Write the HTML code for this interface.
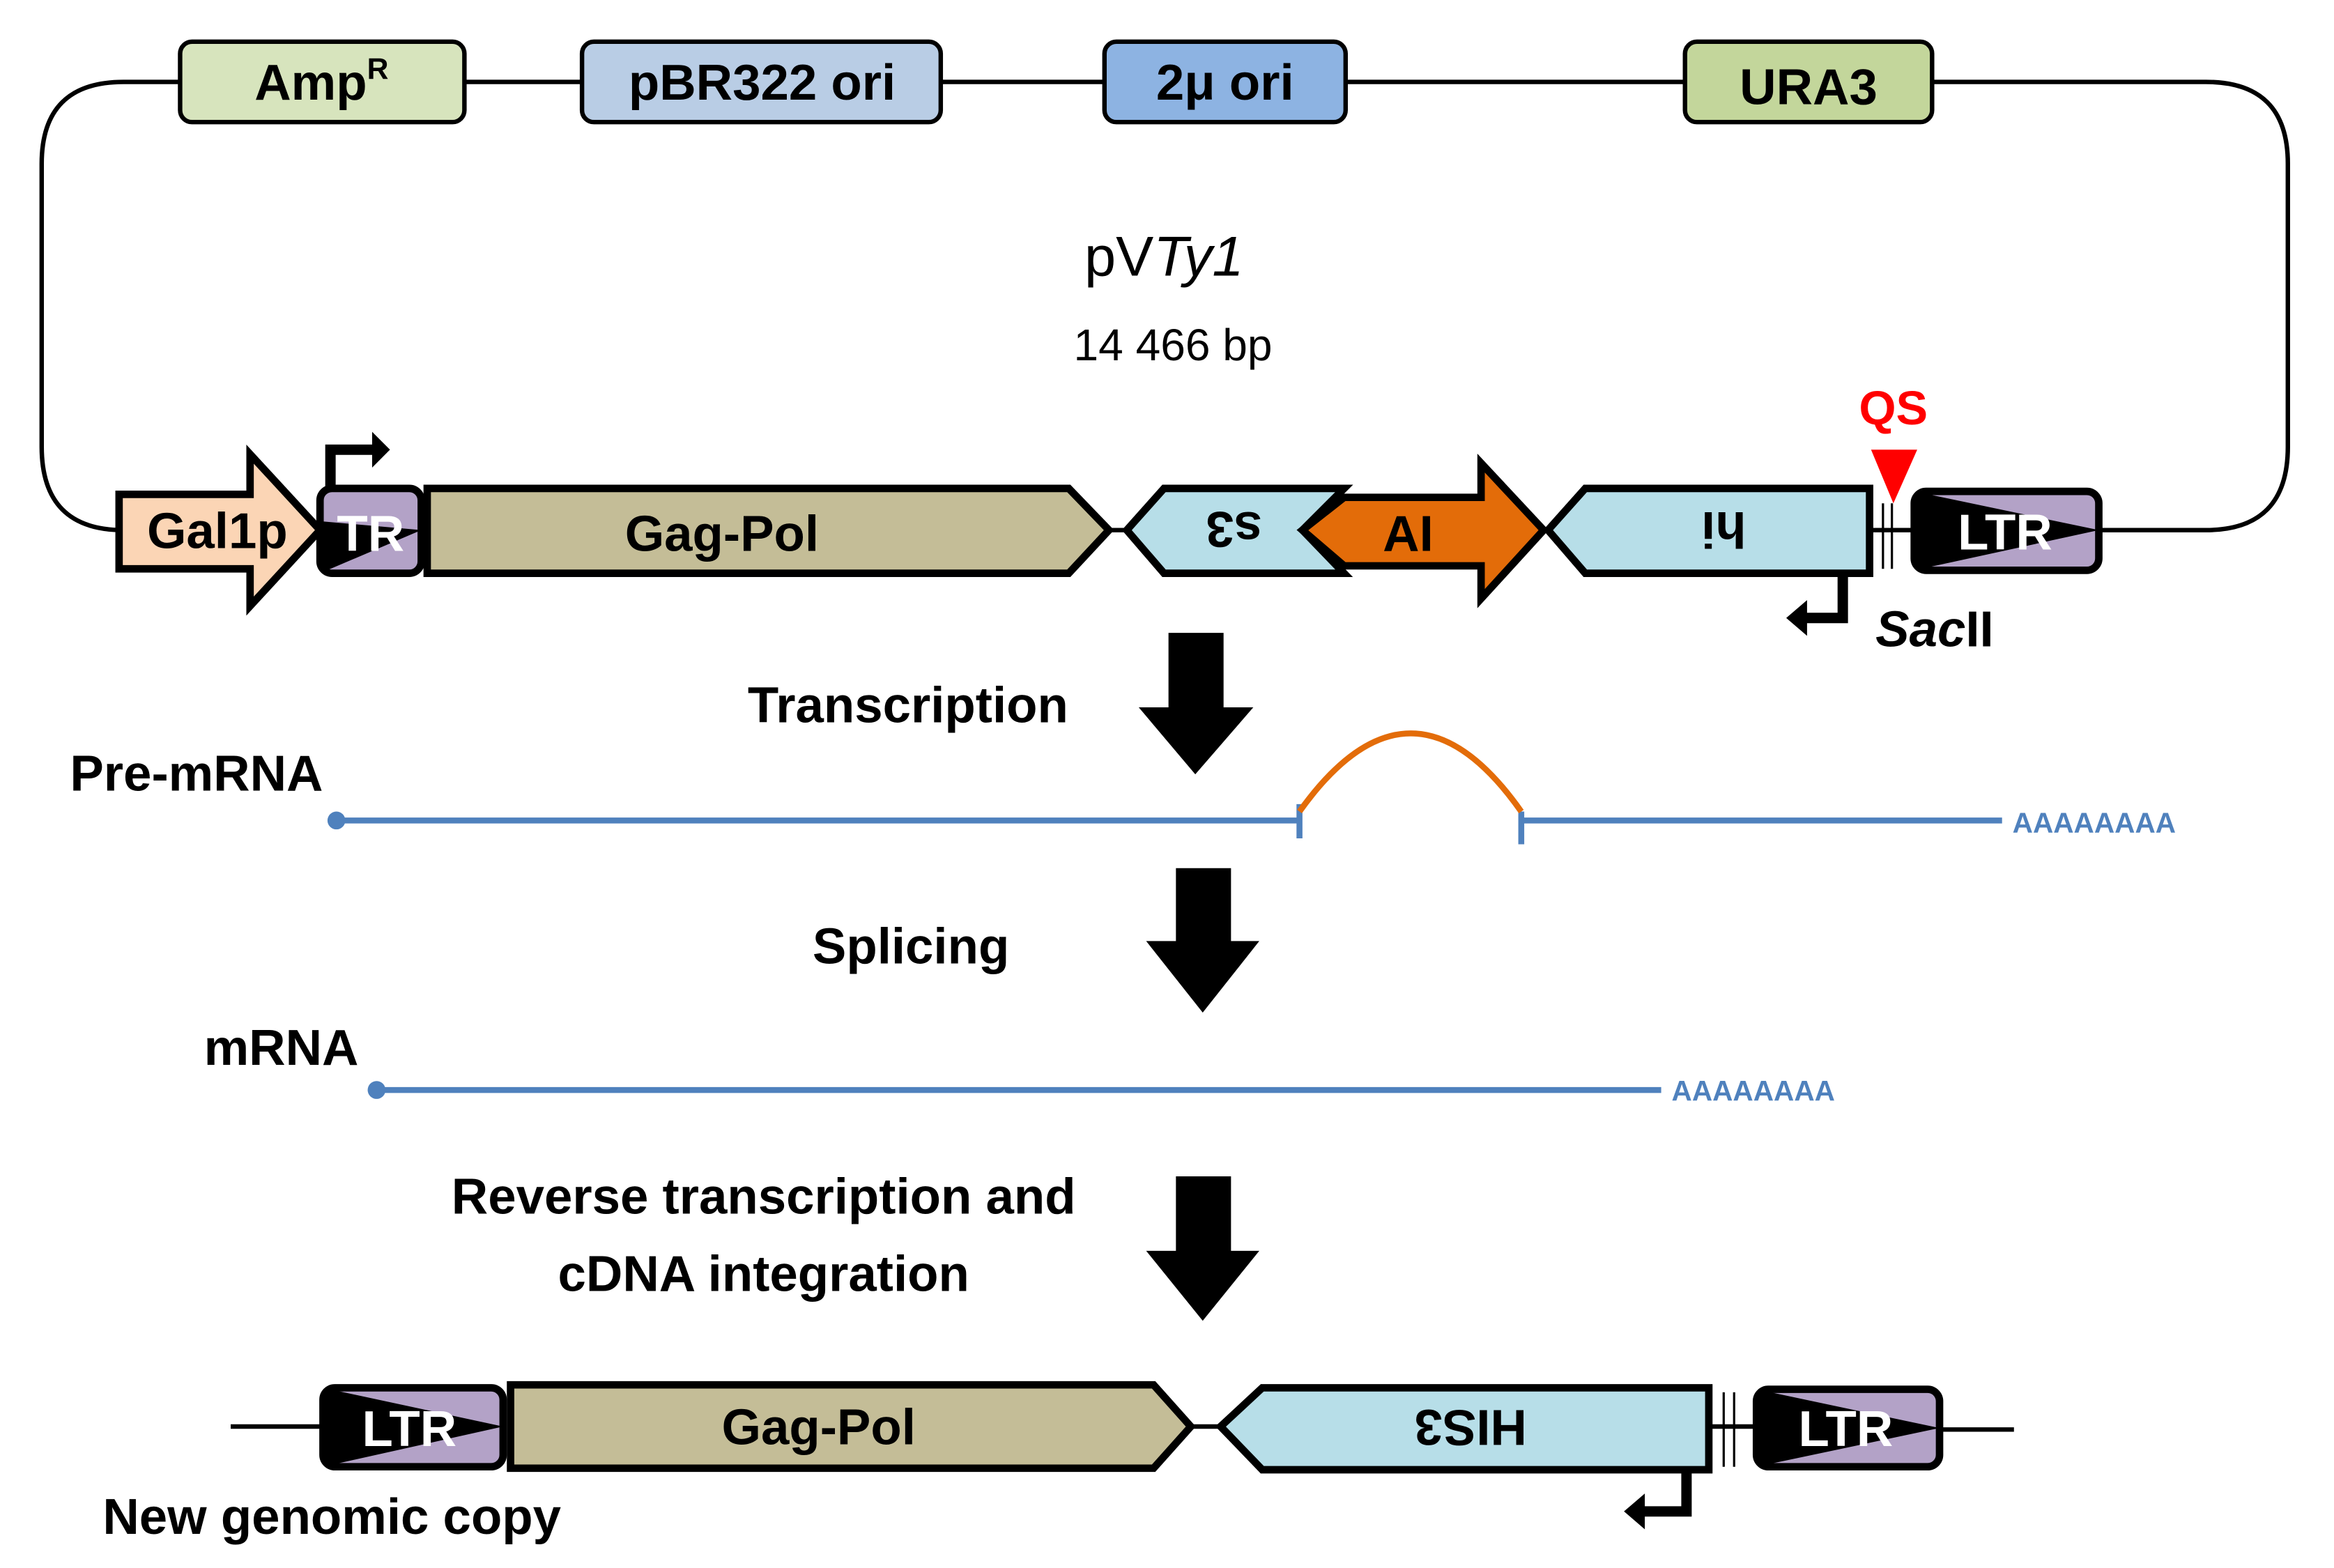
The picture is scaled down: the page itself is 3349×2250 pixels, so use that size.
<!DOCTYPE html>
<html><head><meta charset="utf-8"><style>html,body{margin:0;padding:0;background:#fff}svg{display:block}text{font-family:"Liberation Sans",sans-serif}</style></head><body>
<svg width="3349" height="2250" viewBox="0 0 1568 1053" preserveAspectRatio="none" xmlns="http://www.w3.org/2000/svg">
<defs><clipPath id="c1"><rect x="215" y="328" width="68" height="57" rx="8"/></clipPath>
<clipPath id="c2"><rect x="1286" y="330" width="124" height="53" rx="8"/></clipPath>
<clipPath id="c3"><rect x="217" y="932" width="121" height="53" rx="8"/></clipPath>
<clipPath id="c4"><rect x="1180" y="933" width="123" height="52" rx="8"/></clipPath></defs>
<g fill="none" stroke="#000" stroke-width="3">
<path d="M80 356 H83 Q28 356 28 300 V110 Q28 55 83 55 H1482 Q1537 55 1537 110 V300 Q1537 356 1482 356 H1410"/>
<line x1="745" y1="356" x2="757" y2="356"/>
<line x1="1256" y1="356" x2="1286" y2="356"/>
<line x1="155" y1="958" x2="217" y2="958"/>
<line x1="800" y1="958" x2="820" y2="958"/>
<line x1="1148" y1="958" x2="1180" y2="958"/>
<line x1="1303" y1="960" x2="1353" y2="960"/>
</g>
<g stroke="#000" stroke-width="3">
<rect x="121" y="28" width="191" height="54" rx="8" fill="#d7e4bd"/>
<rect x="391" y="28" width="241" height="54" rx="8" fill="#b9cde5"/>
<rect x="742" y="28" width="162" height="54" rx="8" fill="#8db3e2"/>
<rect x="1132" y="28" width="166" height="54" rx="8" fill="#c3d69b"/>
</g>
<g font-weight="bold" font-size="34" text-anchor="middle">
<text x="216" y="67">Amp<tspan font-size="20" dy="-14">R</tspan></text>
<text x="512" y="67">pBR322 ori</text>
<text x="823" y="67">2μ ori</text>
<text x="1215" y="70">URA3</text>
</g>
<text x="782" y="185" font-size="38" text-anchor="middle">pV<tspan font-style="italic">Ty1</tspan></text>
<text x="788" y="242" font-size="30" text-anchor="middle">14 466 bp</text>
<g stroke="#000" stroke-width="5" stroke-linejoin="miter">
<path d="M80 332 H168 V305 L215 356 L168 407 V382 H80 Z" fill="#fbd5b5"/>
<path d="M287 328 H718 L745 356 L718 385 H287 Z" fill="#c4bd97"/>
<path d="M782 328 H903 L875 356 L903 385 H782 L757 356 Z" fill="#b7dee8"/>
<path d="M875 356 L903 334 H995 V311 L1037 356 L995 402 V380 H903 Z" fill="#e36c09"/>
<path d="M1065 328 H1256 V385 H1065 L1040 356 Z" fill="#b7dee8"/>
</g>
<g clip-path="url(#c1)"><rect x="215" y="328" width="68" height="57" fill="#b3a2c7"/><path d="M215 350 L283 356 L215 385 Z" fill="#000"/></g>
<rect x="215" y="328" width="68" height="57" rx="8" fill="none" stroke="#000" stroke-width="5"/>
<g clip-path="url(#c2)"><rect x="1286" y="330" width="124" height="53" fill="#b3a2c7"/><path d="M1286 330 L1410 356 L1286 383 Z" fill="#000"/></g>
<rect x="1286" y="330" width="124" height="53" rx="8" fill="none" stroke="#000" stroke-width="5"/>
<g font-weight="bold" font-size="34" text-anchor="middle">
<text x="146" y="368">Gal1p</text>
<text x="249" y="370" fill="#fff">TR</text>
<text x="485" y="370">Gag-Pol</text>
<text x="946" y="370">AI</text>
<text x="1347" y="369" fill="#fff">LTR</text>
<text transform="rotate(180 829 356)" x="829" y="368">s3</text>
<text transform="rotate(180 1158 356)" x="1158" y="368">hi</text>
</g>
<path d="M222 330 V302 H252" fill="none" stroke="#000" stroke-width="7"/><path d="M250 290 L262 302 L250 314 Z" fill="#000"/>
<path d="M1238 385 V415 H1212" fill="none" stroke="#000" stroke-width="7"/><path d="M1214 403 L1200 415 L1214 427 Z" fill="#000"/>
<path d="M1133 987 V1015 H1103" fill="none" stroke="#000" stroke-width="7"/><path d="M1105 1003 L1091 1015 L1105 1027 Z" fill="#000"/>
<line x1="1265" y1="338" x2="1265" y2="382" stroke="#000" stroke-width="1.5"/>
<line x1="1271" y1="338" x2="1271" y2="382" stroke="#000" stroke-width="1.5"/>
<path d="M1257 302 H1288 L1272 338 Z" fill="#f00"/>
<text x="1272" y="285" font-size="32" font-weight="bold" fill="#f00" text-anchor="middle">QS</text>
<text x="1260" y="434" font-size="34" font-weight="bold"><tspan font-style="italic">Sac</tspan>II</text>
<path d="M785 425 H822 V475 H842 L803 520 L765 475 H785 Z" fill="#000"/>
<path d="M790 583 H827 V632 H846 L808 680 L770 632 H790 Z" fill="#000"/>
<path d="M790 790 H827 V840 H846 L808 887 L770 840 H790 Z" fill="#000"/>
<g font-weight="bold" font-size="34">
<text x="610" y="485" text-anchor="middle">Transcription</text>
<text x="47" y="531">Pre-mRNA</text>
<text x="612" y="647" text-anchor="middle">Splicing</text>
<text x="137" y="715">mRNA</text>
<text x="513" y="815" text-anchor="middle">Reverse transcription and</text>
<text x="513" y="867" text-anchor="middle">cDNA integration</text>
<text x="69" y="1030">New genomic copy</text>
</g>
<g stroke="#4f81bd" stroke-width="4" fill="none">
<line x1="226" y1="551" x2="873" y2="551"/><line x1="873" y1="540" x2="873" y2="563"/>
<line x1="1022" y1="545" x2="1022" y2="567"/><line x1="1022" y1="551" x2="1345" y2="551"/>
<line x1="253" y1="732" x2="1116" y2="732"/>
</g>
<circle cx="226" cy="551" r="6" fill="#4f81bd"/><circle cx="253" cy="732" r="6" fill="#4f81bd"/>
<path d="M873 545 Q948 440 1022 545" fill="none" stroke="#e36c09" stroke-width="4"/>
<text x="1352" y="559" font-size="19" font-weight="bold" fill="#4f81bd">AAAAAAAA</text>
<text x="1123" y="739" font-size="19" font-weight="bold" fill="#4f81bd">AAAAAAAA</text>
<g stroke="#000" stroke-width="5">
<path d="M343 930 H775 L800 958 L775 986 H343 Z" fill="#c4bd97"/>
<path d="M848 932 H1148 V987 H848 L820 958 Z" fill="#b7dee8"/>
</g>
<g clip-path="url(#c3)"><rect x="217" y="932" width="121" height="53" fill="#b3a2c7"/><path d="M217 932 L338 958 L217 985 Z" fill="#000"/></g>
<rect x="217" y="932" width="121" height="53" rx="8" fill="none" stroke="#000" stroke-width="5"/>
<g clip-path="url(#c4)"><rect x="1180" y="933" width="123" height="52" fill="#b3a2c7"/><path d="M1180 933 L1303 959 L1180 985 Z" fill="#000"/></g>
<rect x="1180" y="933" width="123" height="52" rx="8" fill="none" stroke="#000" stroke-width="5"/>
<line x1="1158" y1="935" x2="1158" y2="985" stroke="#000" stroke-width="1.5"/>
<line x1="1165" y1="935" x2="1165" y2="985" stroke="#000" stroke-width="1.5"/>
<g font-weight="bold" font-size="34" text-anchor="middle">
<text x="275" y="971" fill="#fff">LTR</text>
<text x="550" y="970">Gag-Pol</text>
<text transform="rotate(180 988 959)" x="988" y="971">HIS3</text>
<text x="1240" y="971" fill="#fff">LTR</text>
</g>
</svg>
</body></html>
